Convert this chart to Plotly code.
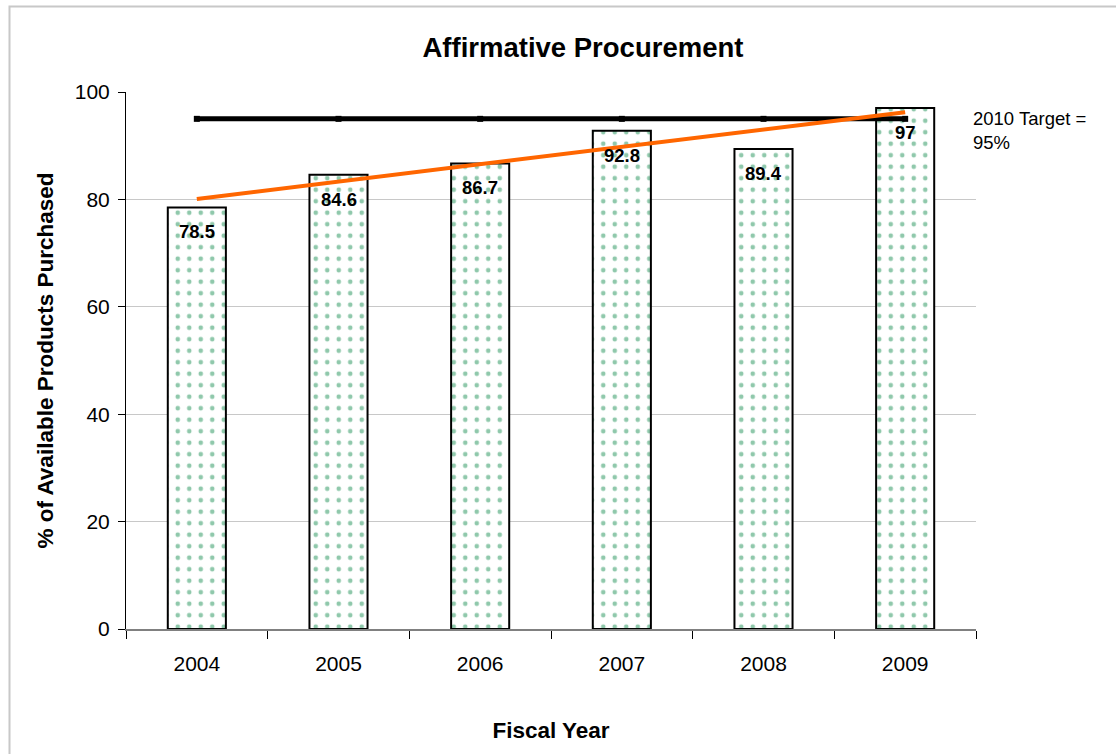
import numpy as np
import plotly.graph_objects as go

# Fiscal years and share of available products purchased
years = ["2004", "2005", "2006", "2007", "2008", "2009"]
purchased_pct = [78.5, 84.6, 86.7, 92.8, 89.4, 97]
target_pct = [95, 95, 95, 95, 95, 95]
target_label = "2010 Target =<br>95%"

# Canvas geometry (pixels)
W, H = 1116, 754
L, R, T, B = 126, 140, 92, 125
pw, ph = W - L - R, H - T - B

def px_x(x):
    return (x - L) / pw

def px_y(y):
    return (H - B - y) / ph

FONT = "Liberation Sans, Arial, sans-serif"

# Category positions and linear trend of the purchased share
idx = list(range(len(years)))
slope, intercept = np.polyfit(idx, purchased_pct, 1)
trend_ends = [float(slope * idx[0] + intercept), float(slope * idx[-1] + intercept)]
boundaries = [i - 0.5 for i in idx] + [idx[-1] + 0.5]

fig = go.Figure()

fig.add_trace(go.Bar(
    x=idx, y=purchased_pct, width=0.41,
    marker=dict(
        color="white",
        line=dict(color="black", width=2),
        pattern=dict(shape=".", fgcolor="#1f9158", bgcolor="white",
                     size=11.5, solidity=0.13, fillmode="overlay"),
    ),
    customdata=years, hovertemplate="%{customdata}: %{y}<extra></extra>",
    showlegend=False,
))

fig.add_trace(go.Scatter(
    x=idx, y=target_pct, mode="lines+markers",
    line=dict(color="black", width=5),
    marker=dict(symbol="square", size=6, color="black"),
    showlegend=False,
))

fig.add_trace(go.Scatter(
    x=[idx[0], idx[-1]], y=trend_ends, mode="lines",
    line=dict(color="#ff6600", width=4),
    showlegend=False,
))

# Value labels inside the top of each bar
for i, v in zip(idx, purchased_pct):
    fig.add_annotation(
        x=i, y=v, yanchor="top", yshift=-12, showarrow=False,
        text=f"<b>{v:g}</b>", font=dict(family=FONT, size=18.5, color="black"),
    )

fig.add_annotation(
    xref="paper", yref="paper", x=px_x(971), y=px_y(106), xanchor="left", yanchor="top",
    text=target_label, showarrow=False, align="left",
    font=dict(family=FONT, size=18.5, color="black"),
)

# Outer frame
fig.add_shape(
    type="rect", xref="paper", yref="paper",
    x0=px_x(9.5), y0=px_y(770), x1=px_x(1130), y1=px_y(6.5),
    line=dict(color="#c8c8c8", width=2), layer="below",
)

fig.update_layout(
    width=W, height=H,
    margin=dict(l=L, r=R, t=T, b=B),
    paper_bgcolor="white", plot_bgcolor="white",
    font=dict(family=FONT, size=21, color="black"),
    title=dict(text="<b>Affirmative Procurement</b>", x=px_x(570), xanchor="center",
               y=1 - 47 / H, yanchor="middle", font=dict(size=27.5)),
)

fig.update_xaxes(
    range=[-0.5, len(years) - 0.5], tickvals=idx, ticktext=years, showgrid=False,
    showline=True, linecolor="#808080", linewidth=1.5,
    ticks="", tickfont=dict(size=21), ticklabelstandoff=15,
    minor=dict(tickvals=boundaries, ticks="outside", ticklen=8, tickcolor="black",
               tickwidth=1, showgrid=False),
    title=dict(text="<b>Fiscal Year</b>", font=dict(size=22.5), standoff=48),
    zeroline=False,
)

fig.update_yaxes(
    range=[0, 100], tickvals=[0, 20, 40, 60, 80, 100],
    showgrid=True, gridcolor="#c8c8c8", gridwidth=1,
    showline=True, linecolor="black", linewidth=1,
    ticks="outside", ticklen=7, tickcolor="black",
    tickfont=dict(size=21), ticklabelstandoff=4,
    title=dict(text="<b>% of Available Products Purchased</b>", font=dict(size=22.5), standoff=14),
    zeroline=False,
)

fig.write_html("out.html")
